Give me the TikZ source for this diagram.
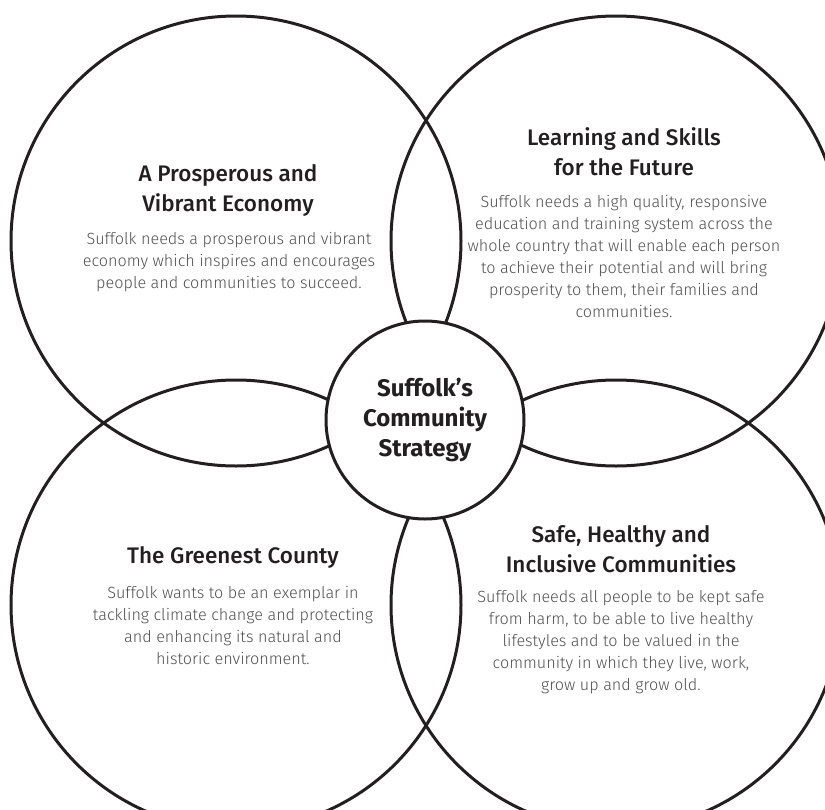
\documentclass[tikz,border=0pt]{standalone}
\usepackage{fontspec}
\setmainfont{Fira Sans}
\newfontfamily\lightfont{Fira Sans Light}
\newfontfamily\headfont{Fira Sans Medium}
\usetikzlibrary{positioning}

\definecolor{inkgrey}{HTML}{231F20}
\definecolor{bodygrey}{HTML}{505052}

\tikzset{
  ring/.style={circle, draw=inkgrey, line width=3pt, minimum size=450pt, inner sep=0pt},
  hub/.style={circle, draw=inkgrey, fill=white, line width=3pt, minimum size=198pt,
    inner sep=0pt, align=center, text=inkgrey, font=\bfseries\fontsize{24}{30}\selectfont},
  heading/.style={align=center, text=inkgrey, font=\headfont\fontsize{22.5}{30}\selectfont},
  blurb/.style={align=center, text=bodygrey, font=\lightfont\fontsize{16.2}{22}\selectfont},
}

\begin{document}
\begin{tikzpicture}[x=1pt,y=-1pt]
\useasboundingbox (0,0) rectangle (825,809);
\clip (0,0) rectangle (825,809);
% the four themes
\node[ring] (prosper) at (236,241) {};
\node[ring] (learning) at (616,241) {};
\node[ring] (greenest) at (236,605) {};
\node[ring] (safe) at (616,605) {};
% strategy in the middle, over the rings
\node[hub] (strategy) at (425,420) {Suffolk's\\Community\\Strategy};
% top left
\node[heading] (prosperhead) at (228,190) {A Prosperous and\\Vibrant Economy};
\node[blurb] (prospertext) at (229,262) {Suffolk needs a prosperous and vibrant\\
  economy which inspires and encourages\\people and communities to succeed.};
% top right
\node[heading] (learninghead) at (624,152) {Learning and Skills\\for the Future};
\node[blurb] (learningtext) at (624,256) {Suffolk needs a high quality, responsive\\
  education and training system across the\\whole country that will enable each person\\
  to achieve their potential and will bring\\prosperity to them, their families and\\communities.};
% bottom left
\node[heading] (greenesthead) at (233,557) {The Greenest County};
\node[blurb] (greenesttext) at (233,625) {Suffolk wants to be an exemplar in\\
  tackling climate change and protecting\\and enhancing its natural and\\historic environment.};
% bottom right
\node[heading] (safehead) at (621,549) {Safe, Healthy and\\Inclusive Communities};
\node[blurb] (safetext) at (621,642) {Suffolk needs all people to be kept safe\\
  from harm, to be able to live healthy\\lifestyles and to be valued in the\\
  community in which they live, work,\\grow up and grow old.};
\end{tikzpicture}
\end{document}
